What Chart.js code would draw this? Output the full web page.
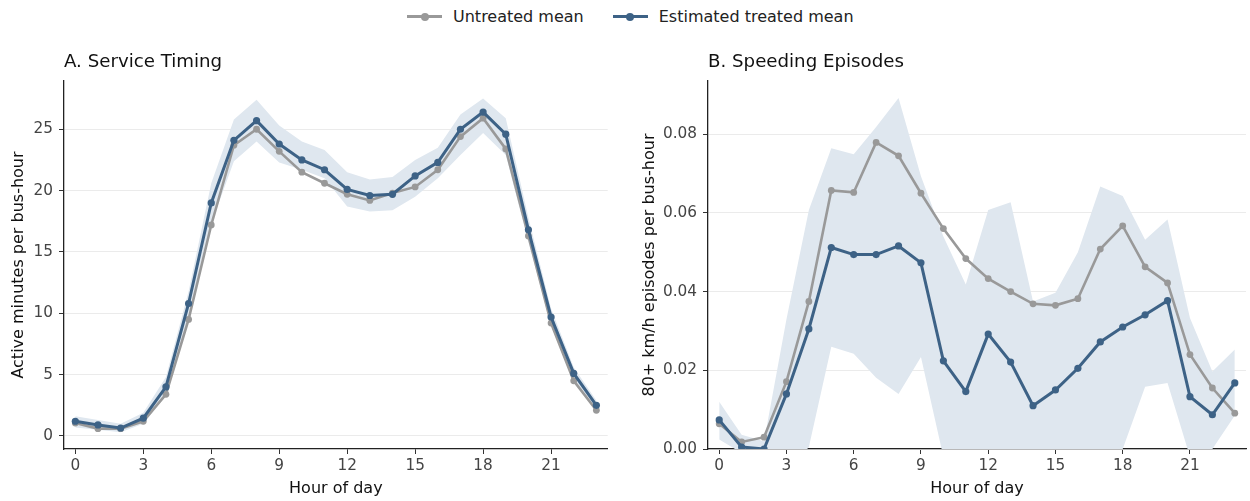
<!DOCTYPE html>
<html><head><meta charset="utf-8">
<script src="https://cdn.jsdelivr.net/npm/chart.js@4.4.1/dist/chart.umd.min.js"></script>
<style>
html,body{margin:0;padding:0;background:#fff;width:1250px;height:501px;overflow:hidden;font-family:'DejaVu Sans',sans-serif;}
#wa{position:absolute;left:0;top:0;width:625px;height:501px;}
#wb{position:absolute;left:625px;top:0;width:625px;height:501px;}
#legend{position:absolute;left:407px;top:7px;display:flex;align-items:center;font-size:16px;line-height:19px;color:#222;white-space:nowrap;}
#legend .item{display:flex;align-items:center;}
#legend .item + .item{margin-left:29px;}
#legend .h{display:inline-block;position:relative;width:35px;height:3px;margin-right:11px;}
#legend .h i{position:absolute;left:13.5px;top:-2.5px;width:8px;height:8px;border-radius:50%;}
</style>
</head><body>
<div id="legend"></div>
<div id="wa"><canvas id="ca" width="625" height="501"></canvas></div>
<div id="wb"><canvas id="cb" width="625" height="501"></canvas></div>
<script>
// ---- data ----
const hours = [0,1,2,3,4,5,6,7,8,9,10,11,12,13,14,15,16,17,18,19,20,21,22,23];
const xTicks = [0,3,6,9,12,15,18,21];
const seriesNames = ['Untreated mean','Estimated treated mean'];

// Panel A: Service Timing
const timingUntreated = [1.05,0.6,0.6,1.2,3.4,9.5,17.2,23.7,25.0,23.2,21.5,20.6,19.7,19.2,19.8,20.3,21.7,24.4,25.9,23.4,16.3,9.2,4.5,2.1];
const timingTreated   = [1.2,0.9,0.65,1.45,4.0,10.8,19.0,24.1,25.7,23.8,22.5,21.7,20.1,19.6,19.7,21.2,22.3,25.0,26.4,24.6,16.8,9.7,5.1,2.5];
const timingLower     = [0.7,0.5,0.3,1.0,3.3,9.6,17.3,22.4,24.0,22.3,21.7,21.0,18.7,18.3,18.4,19.5,21.0,22.9,24.7,22.9,15.8,9.0,4.6,2.1];
const timingUpper     = [1.6,1.3,1.0,1.9,4.8,11.8,20.6,25.8,27.4,25.3,24.0,23.3,21.5,20.9,21.1,22.5,23.5,26.2,27.5,25.9,17.8,10.4,5.6,2.9];
const timingYTicks    = [0,5,10,15,20,25];

// Panel B: Speeding Episodes
const speedUntreated = [0.0064,0.0018,0.003,0.0171,0.0375,0.0657,0.0652,0.0779,0.0745,0.065,0.056,0.0484,0.0433,0.040,0.0369,0.0365,0.0382,0.0508,0.0567,0.0463,0.0422,0.024,0.0155,0.0091];
const speedTreated   = [0.0074,0.0005,0.0,0.014,0.0305,0.0512,0.0494,0.0494,0.0516,0.0473,0.0224,0.0146,0.0292,0.0221,0.011,0.015,0.0205,0.0272,0.031,0.0341,0.0377,0.0133,0.0087,0.0168];
const speedLower     = [0.0024,-0.001,-0.003,-0.006,0.0005,0.026,0.0242,0.0181,0.014,0.0234,-0.002,-0.01,-0.006,-0.01,-0.017,-0.01,-0.006,-0.003,0.0,0.0158,0.0168,-0.002,0.0,0.0085];
const speedUpper     = [0.012,0.0036,0.002,0.033,0.0607,0.0764,0.0749,0.0818,0.0892,0.0693,0.054,0.0418,0.0607,0.0627,0.0375,0.0397,0.050,0.0667,0.0643,0.0532,0.0583,0.0333,0.0197,0.0253];
const speedYTicks    = [0,0.02,0.04,0.06,0.08];

// ---- style ----
const GRAY = '#999999';
const BLUE = '#3d6286';
const BAND = '#dfe7ef';
Chart.defaults.font.family = "'DejaVu Sans', sans-serif";

// legend
const legendEl = document.getElementById('legend');
[[seriesNames[0],GRAY],[seriesNames[1],BLUE]].forEach(([name,c])=>{
  const it = document.createElement('span'); it.className='item';
  const h = document.createElement('span'); h.className='h'; h.style.background=c;
  const dot = document.createElement('i'); dot.style.background=c; h.appendChild(dot);
  it.appendChild(h); it.appendChild(document.createTextNode(name));
  legendEl.appendChild(it);
});

const pts = arr => hours.map((h,i)=>({x:h,y:arr[i]}));

function makeChart(id, o){
  return new Chart(document.getElementById(id), {
    type:'line',
    data:{datasets:[
      {label:seriesNames[1], data:pts(o.treated), borderColor:BLUE, backgroundColor:BLUE, borderWidth:3, pointRadius:3.6, pointBorderWidth:0, fill:false},
      {label:seriesNames[0], data:pts(o.untreated), borderColor:GRAY, backgroundColor:GRAY, borderWidth:2.6, pointRadius:3.4, pointBorderWidth:0, fill:false},
      {label:'lower', data:pts(o.lower), borderWidth:0, borderColor:'rgba(0,0,0,0)', pointRadius:0, fill:false},
      {label:'upper', data:pts(o.upper), borderWidth:0, borderColor:'rgba(0,0,0,0)', pointRadius:0, backgroundColor:BAND, fill:'-1'}
    ]},
    options:{
      responsive:false, animation:false, devicePixelRatio:1,
      layout:{padding:{top:51,left:0,right:o.padRight,bottom:0}},
      plugins:{
        legend:{display:false}, tooltip:{enabled:false},
        title:{display:true, text:o.title, align:'start', fullSize:false, color:'#111',
               font:{size:18.2, weight:'normal'}, padding:{top:0,bottom:8.2}}
      },
      scales:{
        x:{type:'linear', min:-0.5, max:23.5,
           afterBuildTicks:s=>{s.ticks = xTicks.map(v=>({value:v}));},
           afterFit:s=>{s.height = 52;},
           grid:{display:true, drawOnChartArea:false, drawTicks:true, tickLength:5, tickColor:'#333', tickWidth:1},
           border:{display:true, color:'#222', width:1.3},
           ticks:{font:{size:15.3}, color:'#444', padding:3, maxRotation:0, autoSkip:false},
           title:{display:true, text:'Hour of day', font:{size:16}, color:'#111', padding:{top:0,bottom:2.4}}},
        y:{type:'linear', min:o.ymin, max:o.ymax,
           afterBuildTicks:s=>{s.ticks = o.yTicks.map(v=>({value:v}));},
           afterFit:s=>{s.width = o.yWidth;},
           grid:{color:'#ebebeb', lineWidth:1, drawTicks:true, tickLength:5, tickColor:'#333', tickWidth:1},
           border:{display:true, color:'#222', width:1.3},
           ticks:{font:{size:15.3}, color:'#444', padding:6, callback:o.fmt},
           title:{display:true, text:o.ytitle, font:{size:16}, color:'#111', padding:{top:o.ytitlePad,bottom:0}}}
      }
    }
  });
}

makeChart('ca', {treated:timingTreated, untreated:timingUntreated, lower:timingLower, upper:timingUpper,
  title:'A. Service Timing', ytitle:'Active minutes per bus-hour', ymin:-1.06, ymax:28.93, yTicks:timingYTicks,
  yWidth:64, ytitlePad:8.8, padRight:17.3, fmt:v=>String(v)});
makeChart('cb', {treated:speedTreated, untreated:speedUntreated, lower:speedLower, upper:speedUpper,
  title:'B. Speeding Episodes', ytitle:'80+ km/h episodes per bus-hour', ymin:0, ymax:0.0935, yTicks:speedYTicks,
  yWidth:83, ytitlePad:15.4, padRight:0, fmt:v=>Number(v).toFixed(2)});
</script>
</body></html>
